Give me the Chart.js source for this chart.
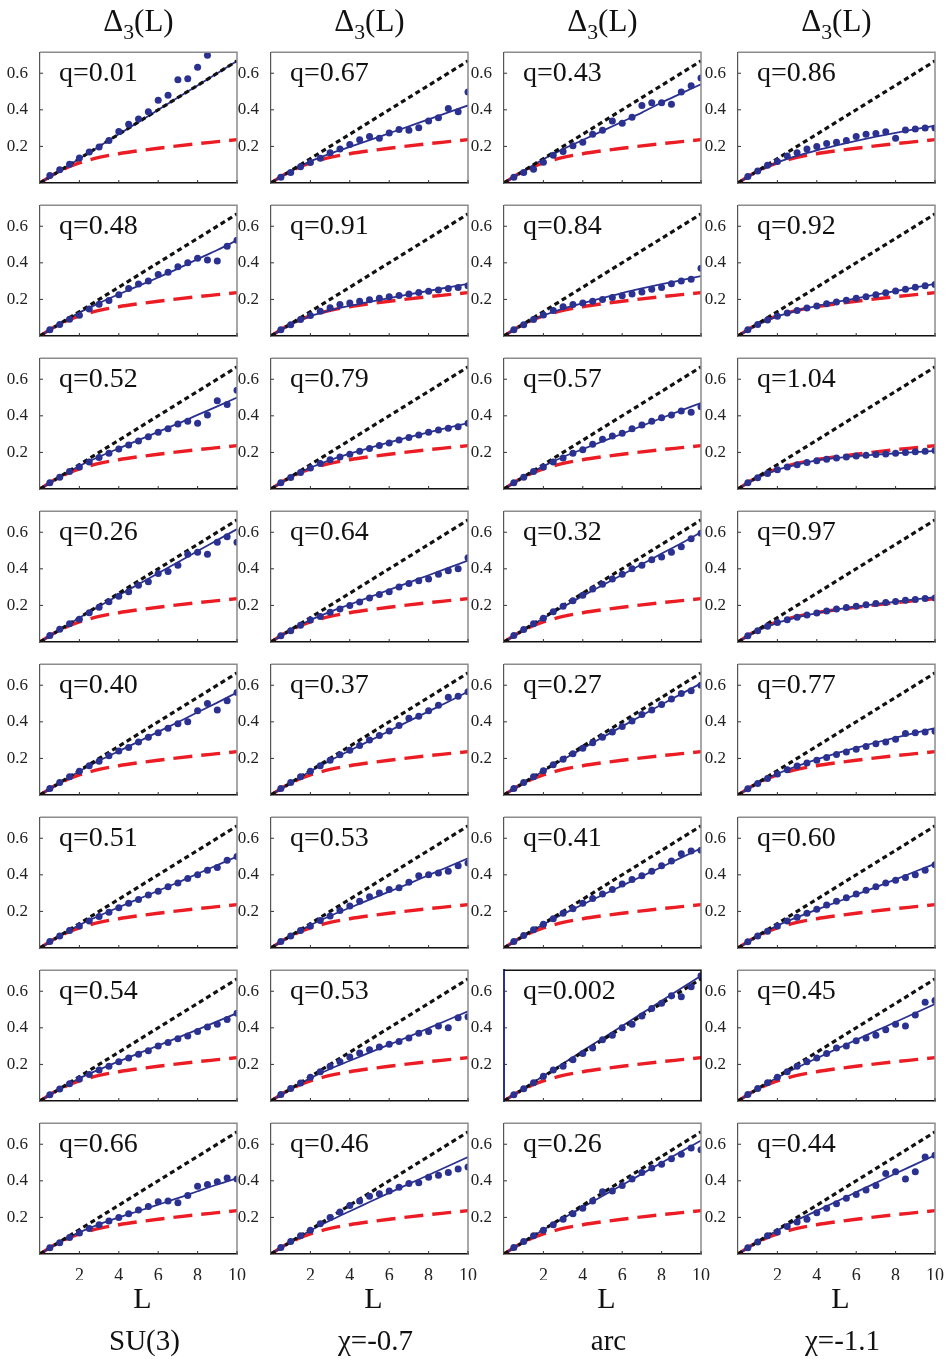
<!DOCTYPE html>
<html>
<head>
<meta charset="utf-8">
<script src="https://cdn.jsdelivr.net/npm/chart.js@4.4.1/dist/chart.umd.min.js"></script>
<style>
  body { margin: 0; background: #fff; font-family: "Liberation Serif", "Times New Roman", serif; }
  #page { position: relative; width: 946px; height: 1359px; overflow: hidden; }
  .panel { position: absolute; }
  .lbl { position: absolute; white-space: nowrap; color: #111; line-height: 1; }
  .lbl sub { font-size: 0.7em; vertical-align: -0.35em; line-height: 0; }
</style>
</head>
<body>
<div id="page"></div>
<script>
// ---- data ----
const columnNames = ["SU(3)", "χ=-0.7", "arc", "χ=-1.1"];
const qLabels = [
  "q=0.01", "q=0.67", "q=0.43", "q=0.86",
  "q=0.48", "q=0.91", "q=0.84", "q=0.92",
  "q=0.52", "q=0.79", "q=0.57", "q=1.04",
  "q=0.26", "q=0.64", "q=0.32", "q=0.97",
  "q=0.40", "q=0.37", "q=0.27", "q=0.77",
  "q=0.51", "q=0.53", "q=0.41", "q=0.60",
  "q=0.54", "q=0.53", "q=0.002", "q=0.45",
  "q=0.66", "q=0.46", "q=0.26", "q=0.44"
];
const xTicks = [2, 4, 6, 8, 10];
const yTicks = [0.2, 0.4, 0.6];

// Poisson line (black dotted)
const poissonL = [0, 10];
const poissonD = [0, 0.667];
// GOE curve (red dashed)
const goeL = [0, 0.5, 1, 1.5, 2, 3, 4, 5, 6, 7, 8, 9, 10];
const goeD = [0, 0.035, 0.065, 0.09, 0.11, 0.14, 0.16, 0.176, 0.19, 0.203, 0.215, 0.226, 0.237];

// fitted curves (blue line), one row per panel, at L = 0..10
const curveL = [0, 1, 2, 3, 4, 5, 6, 7, 8, 9, 10];
const curves = [
  [0,.067,.133,.2,.267,.333,.4,.467,.533,.6,.667],
  [0,.064,.118,.16,.197,.234,.272,.31,.348,.386,.424],
  [0,.066,.13,.185,.235,.285,.335,.385,.44,.49,.54],
  [0,.063,.112,.148,.178,.205,.23,.253,.274,.294,.313],
  [0,.066,.128,.18,.228,.274,.32,.368,.42,.47,.523],
  [0,.062,.108,.14,.165,.187,.207,.227,.247,.266,.285],
  [0,.063,.112,.15,.18,.207,.235,.26,.283,.305,.327],
  [0,.062,.107,.139,.164,.186,.206,.226,.246,.266,.285],
  [0,.066,.126,.176,.222,.267,.312,.357,.405,.452,.50],
  [0,.064,.116,.158,.193,.225,.255,.283,.31,.335,.36],
  [0,.066,.125,.175,.218,.26,.302,.345,.388,.43,.47],
  [0,.062,.105,.133,.157,.17,.18,.188,.195,.202,.208],
  [0,.067,.132,.195,.256,.316,.376,.436,.497,.557,.617],
  [0,.065,.12,.165,.205,.245,.285,.325,.365,.405,.445],
  [0,.066,.13,.192,.252,.31,.368,.425,.483,.54,.60],
  [0,.062,.105,.135,.158,.177,.193,.207,.22,.233,.245],
  [0,.066,.13,.187,.24,.292,.345,.398,.452,.505,.56],
  [0,.066,.13,.188,.243,.296,.35,.404,.457,.51,.565],
  [0,.066,.131,.194,.255,.315,.375,.435,.495,.553,.61],
  [0,.064,.116,.158,.195,.228,.258,.287,.314,.34,.365],
  [0,.066,.126,.176,.223,.268,.313,.358,.406,.453,.50],
  [0,.066,.125,.175,.22,.264,.308,.352,.398,.444,.49],
  [0,.066,.129,.186,.238,.29,.341,.392,.443,.494,.545],
  [0,.065,.122,.168,.21,.25,.292,.333,.375,.418,.46],
  [0,.066,.124,.172,.217,.26,.303,.346,.39,.435,.48],
  [0,.066,.125,.175,.22,.264,.308,.352,.398,.444,.49],
  [0,.068,.137,.205,.274,.342,.41,.479,.548,.616,.685],
  [0,.066,.128,.183,.234,.284,.334,.383,.432,.481,.53],
  [0,.064,.118,.162,.2,.235,.27,.305,.343,.38,.414],
  [0,.066,.128,.183,.234,.284,.334,.383,.432,.481,.53],
  [0,.067,.132,.195,.256,.317,.377,.438,.499,.56,.62],
  [0,.066,.129,.185,.236,.287,.338,.389,.44,.49,.54]
];

// data points (blue dots), one row per panel, at L = 0.5, 1, ..., 10
const dotL = [0.5,1,1.5,2,2.5,3,3.5,4,4.5,5,5.5,6,6.5,7,7.5,8,8.5,9,9.5,10];
const dots = [
  [.041,.072,.103,.136,.170,.197,.232,.282,.321,.350,.390,.453,.479,.565,.570,.633,.699,.76,.80,.86],
  [.032,.058,.089,.112,.135,.165,.186,.211,.237,.254,.245,.274,.293,.288,.302,.339,.356,.407,.39,.497],
  [.032,.058,.075,.114,.152,.172,.203,.223,.266,.288,.339,.327,.36,.424,.438,.438,.43,.497,.532,.574],
  [.036,.066,.097,.117,.148,.165,.186,.2,.216,.223,.233,.254,.267,.271,.28,.244,.29,.295,.30,.30],
  [.034,.063,.092,.114,.148,.174,.194,.225,.259,.284,.30,.336,.348,.378,.40,.425,.415,.41,.49,.523],
  [.034,.062,.09,.112,.135,.155,.172,.18,.19,.198,.207,.215,.222,.23,.238,.245,.252,.26,.265,.275],
  [.034,.062,.09,.115,.14,.16,.172,.18,.19,.2,.21,.22,.23,.24,.255,.265,.285,.30,.31,.37],
  [.034,.063,.088,.108,.126,.14,.153,.164,.176,.186,.196,.206,.215,.225,.236,.246,.256,.266,.275,.282],
  [.034,.064,.095,.12,.148,.172,.195,.218,.24,.262,.285,.31,.33,.355,.37,.36,.404,.482,.462,.54],
  [.034,.063,.09,.115,.14,.16,.175,.19,.207,.222,.238,.252,.268,.282,.295,.31,.322,.332,.34,.36],
  [.034,.064,.095,.12,.148,.17,.195,.215,.245,.272,.29,.305,.33,.35,.37,.39,.405,.426,.42,.45],
  [.034,.062,.085,.105,.12,.133,.145,.155,.162,.17,.175,.18,.185,.188,.192,.196,.2,.203,.206,.21],
  [.036,.07,.10,.125,.16,.19,.22,.25,.275,.31,.33,.375,.385,.42,.48,.49,.48,.545,.575,.545],
  [.034,.062,.092,.12,.14,.162,.18,.2,.218,.24,.26,.275,.3,.32,.335,.345,.37,.39,.40,.46],
  [.036,.068,.1,.13,.165,.195,.225,.255,.29,.315,.345,.37,.40,.42,.45,.465,.49,.52,.565,.595],
  [.034,.062,.086,.106,.122,.135,.148,.158,.17,.18,.188,.195,.203,.21,.216,.222,.228,.232,.238,.24],
  [.036,.068,.1,.13,.16,.185,.215,.24,.26,.29,.315,.34,.365,.39,.40,.46,.50,.465,.515,.56],
  [.036,.068,.1,.13,.16,.19,.22,.245,.27,.3,.325,.35,.38,.42,.43,.46,.49,.535,.54,.565],
  [.036,.068,.1,.132,.165,.195,.225,.255,.285,.315,.345,.375,.405,.44,.465,.495,.525,.555,.57,.60],
  [.034,.063,.09,.115,.138,.158,.175,.19,.205,.222,.235,.25,.265,.28,.29,.305,.336,.34,.344,.348],
  [.036,.066,.095,.12,.148,.172,.195,.22,.245,.265,.29,.31,.335,.355,.38,.40,.425,.44,.48,.50],
  [.036,.066,.095,.12,.15,.175,.205,.23,.255,.28,.30,.32,.33,.36,.395,.40,.41,.42,.45,.465],
  [.036,.068,.1,.13,.16,.19,.215,.245,.27,.295,.32,.35,.375,.395,.42,.45,.475,.515,.53,.535],
  [.034,.066,.092,.12,.148,.168,.19,.212,.235,.255,.275,.295,.315,.335,.355,.37,.385,.40,.425,.455],
  [.034,.065,.094,.12,.145,.17,.19,.215,.235,.255,.275,.3,.32,.34,.355,.38,.405,.42,.445,.48],
  [.036,.068,.098,.13,.16,.19,.215,.24,.262,.28,.295,.31,.325,.345,.37,.38,.41,.40,.455,.46],
  [.034,.067,.1,.135,.17,.19,.225,.26,.29,.335,.36,.40,.42,.465,.505,.535,.575,.57,.625,.685],
  [.036,.068,.1,.13,.16,.19,.215,.235,.26,.29,.30,.33,.345,.36,.39,.42,.41,.47,.54,.55],
  [.034,.062,.09,.115,.14,.16,.18,.20,.22,.24,.26,.285,.29,.28,.32,.37,.38,.395,.415,.41],
  [.036,.068,.1,.13,.165,.2,.23,.265,.29,.315,.33,.345,.365,.385,.39,.42,.43,.445,.465,.475],
  [.036,.068,.1,.13,.16,.19,.22,.25,.29,.34,.345,.375,.41,.445,.47,.49,.52,.545,.58,.57],
  [.034,.066,.1,.12,.15,.175,.19,.225,.25,.275,.305,.325,.35,.375,.44,.45,.41,.45,.53,.54]
];

// ---- layout ----
const plotLefts = [40, 271, 504, 738];
const plotBottoms = [183, 336, 489, 642, 795, 948, 1101, 1254];
const PLOT_W = 197, PLOT_H = 139;
const Y_MAX = 0.715;
const YW = 38, XH = 26, PADT = 6, PADR = 16;
const BLUE = "#2b3190", RED = "#ec1c24";
const FONT = "'Liberation Serif', 'Times New Roman', serif";

const page = document.getElementById("page");

function addLabel(html, left, top, size, center) {
  const d = document.createElement("div");
  d.className = "lbl";
  d.innerHTML = html;
  d.style.fontSize = size + "px";
  d.style.top = top + "px";
  if (center) {
    d.style.left = (left - 100) + "px";
    d.style.width = "200px";
    d.style.textAlign = "center";
  } else {
    d.style.left = left + "px";
  }
  page.appendChild(d);
}

const toPts = (xs, ys) => xs.map((x, i) => ({ x: x, y: ys[i] }));

// frame on top/right, tiny inner ticks
const framePlugin = {
  id: "frame",
  afterDraw(chart, args, opts) {
    const { ctx, chartArea: a } = chart;
    const xs = chart.scales.x, ys = chart.scales.y;
    ctx.save();
    ctx.strokeStyle = opts.edge || "#8c8c8c";
    ctx.lineWidth = 1.5;
    ctx.beginPath();
    ctx.moveTo(a.left, a.top); ctx.lineTo(a.right, a.top); ctx.lineTo(a.right, a.bottom);
    ctx.stroke();
    ctx.strokeStyle = "#333";
    ctx.lineWidth = 1;
    ctx.beginPath();
    xTicks.forEach(v => {
      const px = xs.getPixelForValue(v);
      ctx.moveTo(px, a.bottom); ctx.lineTo(px, a.bottom - 3);
    });
    yTicks.forEach(v => {
      const py = ys.getPixelForValue(v);
      ctx.moveTo(a.left, py); ctx.lineTo(a.left + 3, py);
    });
    ctx.stroke();
    ctx.restore();
  }
};

function makePanel(idx) {
  const row = Math.floor(idx / 4), col = idx % 4;
  const isBottom = row === plotBottoms.length - 1;
  const special = qLabels[idx] === "q=0.002";
  const left = plotLefts[col], bottom = plotBottoms[row], top = bottom - PLOT_H;

  const wrap = document.createElement("div");
  wrap.className = "panel";
  wrap.style.left = (left - YW) + "px";
  wrap.style.top = (top - PADT) + "px";
  const cv = document.createElement("canvas");
  const w = YW + PLOT_W + PADR, h = PADT + PLOT_H + XH;
  cv.width = w; cv.height = h;
  cv.style.width = w + "px"; cv.style.height = h + "px";
  wrap.appendChild(cv);
  page.appendChild(wrap);

  new Chart(cv.getContext("2d"), {
    type: "scatter",
    data: {
      datasets: [
        {
          type: "line", data: toPts(goeL, goeD), borderColor: RED, borderWidth: 3.4,
          borderDash: [19, 9], pointRadius: 0, cubicInterpolationMode: "monotone", order: 4
        },
        {
          type: "line", data: toPts(curveL, curves[idx]), borderColor: BLUE, borderWidth: 1.8,
          pointRadius: 0, cubicInterpolationMode: "monotone", order: 3
        },
        {
          type: "line", data: toPts(poissonL, poissonD), borderColor: "#111", borderWidth: 3.2,
          borderDash: [5, 3.5], pointRadius: 0, order: 2
        },
        {
          type: "scatter", data: toPts(dotL, dots[idx]), backgroundColor: BLUE,
          borderWidth: 0, pointRadius: 3.5, order: 1
        }
      ]
    },
    options: {
      responsive: false,
      animation: false,
      devicePixelRatio: 1,
      layout: { padding: { top: PADT, right: PADR, left: 0, bottom: 0 } },
      plugins: {
        legend: { display: false },
        tooltip: { enabled: false },
        frame: { edge: special ? "#111" : "#8c8c8c" }
      },
      scales: {
        x: {
          type: "linear", min: 0, max: 10,
          grid: { display: false },
          border: { display: true, color: "#111", width: 1.6 },
          afterBuildTicks: s => { s.ticks = xTicks.map(v => ({ value: v })); },
          afterFit: s => { s.height = XH; },
          ticks: {
            display: isBottom, padding: 3, color: "#222",
            font: { family: FONT, size: 18 },
            maxRotation: 0, autoSkip: false
          }
        },
        y: {
          type: "linear", min: 0, max: Y_MAX,
          grid: { display: false },
          border: { display: true, color: special ? BLUE : "#555", width: special ? 2 : 1.2 },
          afterBuildTicks: s => { s.ticks = yTicks.map(v => ({ value: v })); },
          afterFit: s => { s.width = YW; },
          ticks: {
            padding: 4, color: "#222",
            font: { family: FONT, size: 17 },
            callback: v => v.toFixed(1)
          }
        }
      }
    },
    plugins: [framePlugin]
  });

  addLabel(qLabels[idx], left + 19, bottom - 125.5, 28, false);
}

for (let i = 0; i < qLabels.length; i++) makePanel(i);

// column headers and bottom captions
plotLefts.forEach((left, col) => {
  const cx = left + PLOT_W / 2;
  addLabel("Δ<sub>3</sub>(L)", cx, 5, 31, true);
  addLabel("L", cx + 4, 1283, 30, true);
  addLabel(columnNames[col], cx + 6, 1326, 29, true);
});
</script>
</body>
</html>
